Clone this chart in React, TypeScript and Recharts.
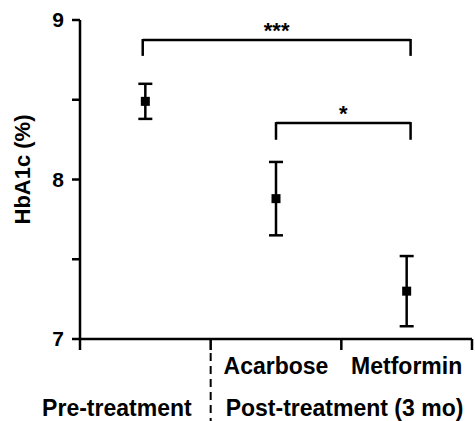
import React from 'react';
import {
  ComposedChart,
  Scatter,
  ErrorBar,
  XAxis,
  YAxis,
  ReferenceLine,
  Label,
} from 'recharts';

const FONT = '"Liberation Sans", Arial, sans-serif';
const SW = 2.5;

// HbA1c mean and error per group
const groups = ['Pre-treatment', 'Acarbose', 'Metformin'];
const xPos = [0.5, 1.5, 2.5];
const means = [8.49, 7.88, 7.3];
const errs = [0.11, 0.23, 0.22];

const yTicks = [7, 7.5, 8, 8.5, 9];
const xTicks = [0, 0.5, 1, 1.5, 2, 2.5, 3];
const treatments = ['Acarbose', 'Metformin'];
const periods = ['Pre-treatment', 'Post-treatment (3 mo)'];

// significance brackets: x ends, top value, drop, label
const brackets = [
  { x1: 0.48, x2: 2.53, y: 8.875, drop: 0.1, label: '***' },
  { x1: 1.5, x2: 2.53, y: 8.354, drop: 0.105, label: '*' },
];

const data = groups.map((g, i) => ({ name: g, x: xPos[i], y: means[i], err: errs[i] }));

const Square = (props: any) => {
  const { cx, cy } = props;
  return <rect x={cx - 4.5} y={cy - 4.5} width={9} height={9} fill="#000" />;
};

const XTick = (props: any) => {
  const { x, y, payload } = props;
  const v = payload.value;
  const txt = { fontFamily: FONT, fontWeight: 700, fontSize: 23, fill: '#000' };
  if (Number.isInteger(v)) {
    return (
      <g>
        <line x1={x} y1={y} x2={x} y2={y + 11} stroke="#000" strokeWidth={SW} />
        {v === 1 && (
          <g>
            <line x1={x} y1={y + 14} x2={x} y2={y + 85} stroke="#000" strokeWidth={2} strokeDasharray="8 5" />
            <text x={x - 19} y={y + 77} textAnchor="end" {...txt}>{periods[0]}</text>
            <text x={x + 15} y={y + 77} textAnchor="start" {...txt}>{periods[1]}</text>
          </g>
        )}
      </g>
    );
  }
  const idx = v === 1.5 ? 0 : v === 2.5 ? 1 : -1;
  if (idx < 0) return null;
  return (
    <text x={x} y={y + 35} textAnchor="middle" {...txt}>{treatments[idx]}</text>
  );
};

export default function App() {
  return (
    <div style={{ position: 'absolute', left: 0, top: 0, background: '#fff' }}>
      <ComposedChart width={475} height={421} data={data} margin={{ top: 20, right: 3, bottom: 0, left: 0 }}>
        <XAxis
          type="number"
          dataKey="x"
          domain={[0, 3]}
          ticks={xTicks}
          interval={0}
          height={82}
          tickLine={false}
          tickSize={0}
          tickMargin={0}
          tick={<XTick />}
          axisLine={{ stroke: '#000', strokeWidth: SW }}
          allowDataOverflow
        />
        <YAxis
          type="number"
          dataKey="y"
          domain={[7, 9]}
          ticks={yTicks}
          interval={0}
          width={80}
          tickSize={8}
          tickMargin={8}
          tickFormatter={(v: number) => (Number.isInteger(v) ? String(v) : '')}
          tick={{ fontFamily: FONT, fontWeight: 700, fontSize: 21, fill: '#000' }}
          tickLine={{ stroke: '#000', strokeWidth: SW }}
          axisLine={{ stroke: '#000', strokeWidth: SW }}
        >
          <Label
            content={(p: any) => {
              const vb = p.viewBox;
              const cx = 22;
              const cy = vb.y + vb.height / 2 - 10;
              return (
                <text
                  x={cx}
                  y={cy}
                  transform={`rotate(-90 ${cx} ${cy})`}
                  textAnchor="middle"
                  dominantBaseline="central"
                  style={{ fontFamily: FONT, fontWeight: 700, fontSize: 22, fill: '#000' }}
                >
                  HbA1c (%)
                </text>
              );
            }}
          />
        </YAxis>
        {brackets.map((b, i) => (
          <ReferenceLine
            key={`h${i}`}
            segment={[{ x: b.x1, y: b.y }, { x: b.x2, y: b.y }]}
            stroke="#000"
            strokeWidth={SW}
            ifOverflow="visible"
            label={{
              value: b.label,
              position: 'top',
              offset: 2,
              style: { fontFamily: FONT, fontWeight: 700, fontSize: 22, fill: '#000' },
            }}
          />
        ))}
        {brackets.map((b, i) => (
          <ReferenceLine
            key={`l${i}`}
            segment={[{ x: b.x1, y: b.y + 0.006 }, { x: b.x1, y: b.y - b.drop }]}
            stroke="#000"
            strokeWidth={SW}
            ifOverflow="visible"
          />
        ))}
        {brackets.map((b, i) => (
          <ReferenceLine
            key={`r${i}`}
            segment={[{ x: b.x2, y: b.y + 0.006 }, { x: b.x2, y: b.y - b.drop }]}
            stroke="#000"
            strokeWidth={SW}
            ifOverflow="visible"
          />
        ))}
        <Scatter dataKey="y" shape={<Square />} isAnimationActive={false}>
          <ErrorBar dataKey="err" direction="y" width={7} stroke="#000" strokeWidth={SW} />
        </Scatter>
      </ComposedChart>
    </div>
  );
}
